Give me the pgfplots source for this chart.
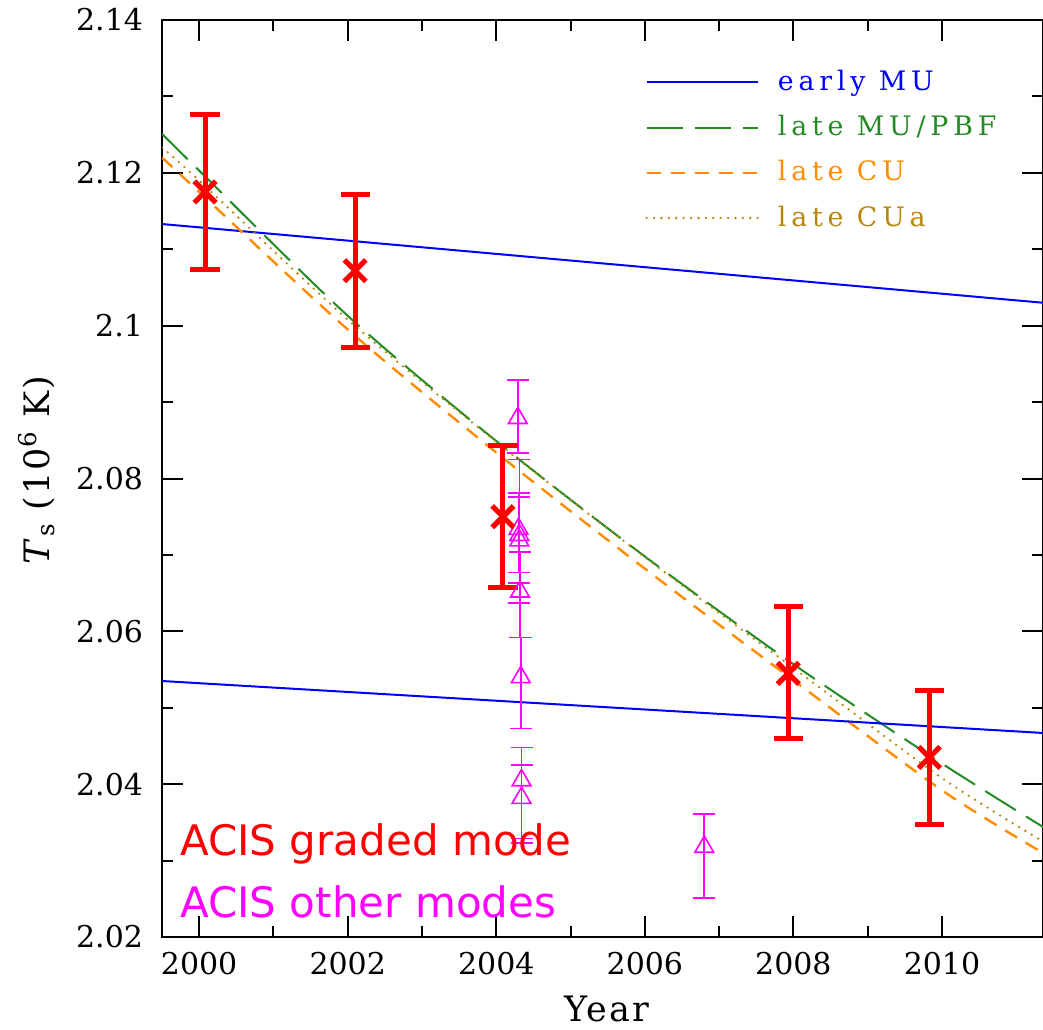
\documentclass[border=0pt]{standalone}
\usepackage{fontspec}
\setmainfont{DejaVu Serif}
\newfontfamily\legfont[LetterSpace=18]{DejaVu Serif}
\newfontfamily\lblfont[LetterSpace=6]{DejaVu Serif}
\newfontfamily\annfont{DejaVu Sans}
\usepackage{pgfplots}
\pgfplotsset{compat=1.18}
\definecolor{mygreen}{RGB}{34,139,34}
\definecolor{myorange}{RGB}{255,140,0}
\definecolor{mygold}{RGB}{184,134,11}
\definecolor{mymag}{RGB}{255,0,255}
\begin{document}
\begin{tikzpicture}
\begin{axis}[
  at={(0,0)}, anchor=south west,
  scale only axis, width=440.5pt, height=458.5pt,
  xmin=1999.5, xmax=2011.36, ymin=2.02, ymax=2.14,
  xtick={2000,2002,2004,2006,2008,2010},
  ytick={2.02,2.04,2.06,2.08,2.1,2.12,2.14},
  minor x tick num=1, minor y tick num=1,
  xtick pos=both, ytick pos=both, xticklabel pos=lower, yticklabel pos=left,
  tick align=inside,
  major tick length=10.5pt, minor tick length=5.5pt,
  tick style={black, line width=1pt},
  axis line style={line width=1pt},
  /pgf/number format/assume math mode=true,
  xticklabel style={/pgf/number format/1000 sep={}, font=\fontsize{15}{18}\selectfont, yshift=-4pt},
  yticklabel style={font=\fontsize{15}{18}\selectfont, xshift=-6pt},
  xlabel={Year},
  xlabel style={font=\lblfont\fontsize{17.5}{20}\selectfont, at={(axis description cs:0.505,-0.0925)}, anchor=base, inner sep=0pt},
  ylabel={\textit{T}\textsubscript{s} (10\textsuperscript{6} K)},
  ylabel style={font=\lblfont\fontsize{17.5}{20}\selectfont, at={(axis description cs:-0.142,0.509)}, anchor=center},
  legend style={draw=none, fill=none, at={(rel axis cs:0.5482,0.9459)}, anchor=north west,
    font=\legfont\fontsize{13.4}{15}\selectfont, nodes={inner sep=0pt, text height=10.2pt, text depth=2.2pt},
    row sep=10.2pt, column sep=9.5pt, inner sep=0pt},
  legend cell align=left,
  legend image code/.code={\draw[#1] (0pt,0pt) -- (55.5pt,0pt);},
]
\addplot[blue, line width=1pt] coordinates {(1999.5,2.1133) (2011.36,2.1030)};
\addlegendentry{\textcolor{blue}{early MU}}
\addplot[mygreen, line width=1pt, dash pattern=on 18pt off 6pt, smooth] coordinates {
 (1999.5,2.1251) (2000,2.1203) (2002,2.1013) (2004,2.0849) (2006,2.0698) (2008,2.0557) (2010,2.0427) (2011.36,2.0344)};
\addlegendentry{\textcolor{mygreen}{late MU/PBF}}
\addplot[myorange, line width=1.2pt, dash pattern=on 7pt off 5pt, smooth] coordinates {
 (1999.5,2.1220) (2000,2.1175) (2002,2.0995) (2004,2.0834) (2006,2.0682) (2008,2.0536) (2010,2.0392) (2011.36,2.0310)};
\addlegendentry{\textcolor{myorange}{late CU}}
\addplot[mygold, line width=1.3pt, line cap=round, dash pattern=on 0pt off 3.7pt, smooth] coordinates {
 (1999.5,2.1233) (2000,2.1190) (2002,2.1008) (2004,2.0848) (2006,2.0697) (2008,2.0552) (2010,2.0408) (2011.36,2.0325)};
\addlegendentry{\textcolor{mygold}{late CUa}}
\addplot[blue, line width=1pt, forget plot] coordinates {(1999.5,2.0535) (2011.36,2.0467)};
% ACIS other modes
\addplot[mymag, only marks, mark=triangle, mark size=5.4pt, mark options={line width=0.8pt, fill=none}, forget plot,
  error bars/.cd, y dir=both, y explicit, error bar style={line width=0.8pt, mymag},
  error mark=-, error mark options={rotate=90, mymag, line width=0.8pt, mark size=5.5pt}] coordinates {
 (2004.29,2.0879) += (0,0.0050) -= (0,0.0046)
 (2004.30,2.0734) += (0,0.0047) -= (0,0.0057)
 (2004.31,2.0726) += (0,0.0050) -= (0,0.0063)
 (2004.31,2.0719) += (0,0.0106) -= (0,0.0082)
 (2004.32,2.0652) += (0,0.0052) -= (0,0.0060)
 (2004.33,2.0540) += (0,0.0052) -= (0,0.0067)
 (2004.34,2.0405) += (0,0.0043) -= (0,0.0076)
 (2004.34,2.0382) += (0,0.0043) -= (0,0.0059)
 (2006.80,2.0318) += (0,0.0043) -= (0,0.0067)
};
% ACIS graded mode
\addplot[red, only marks, mark=x, mark size=7.6pt, mark options={line width=2.6pt}, forget plot,
  error bars/.cd, y dir=both, y explicit, error bar style={line width=2.5pt, red},
  error mark=-, error mark options={rotate=90, red, line width=2.5pt, mark size=7.3pt}] coordinates {
 (2000.08,2.1175) += (0,0.0101) -= (0,0.0101)
 (2002.10,2.1072) += (0,0.0100) -= (0,0.0100)
 (2004.09,2.0750) += (0,0.0093) -= (0,0.0093)
 (2007.93,2.0545) += (0,0.0088) -= (0,0.0085)
 (2009.83,2.0435) += (0,0.0088) -= (0,0.0088)
};
\node[anchor=base west, inner sep=0pt, text=red, font=\annfont\fontsize{21}{24}\selectfont] at (axis cs:1999.74,2.0307) {ACIS graded mode};
\node[anchor=base west, inner sep=0pt, text=mymag, font=\annfont\fontsize{21}{24}\selectfont] at (axis cs:1999.74,2.0225) {ACIS other modes};
\end{axis}
\pgfresetboundingbox
\path (-81pt,-46pt) rectangle (440.5pt,468.5pt);
\end{tikzpicture}
\end{document}
